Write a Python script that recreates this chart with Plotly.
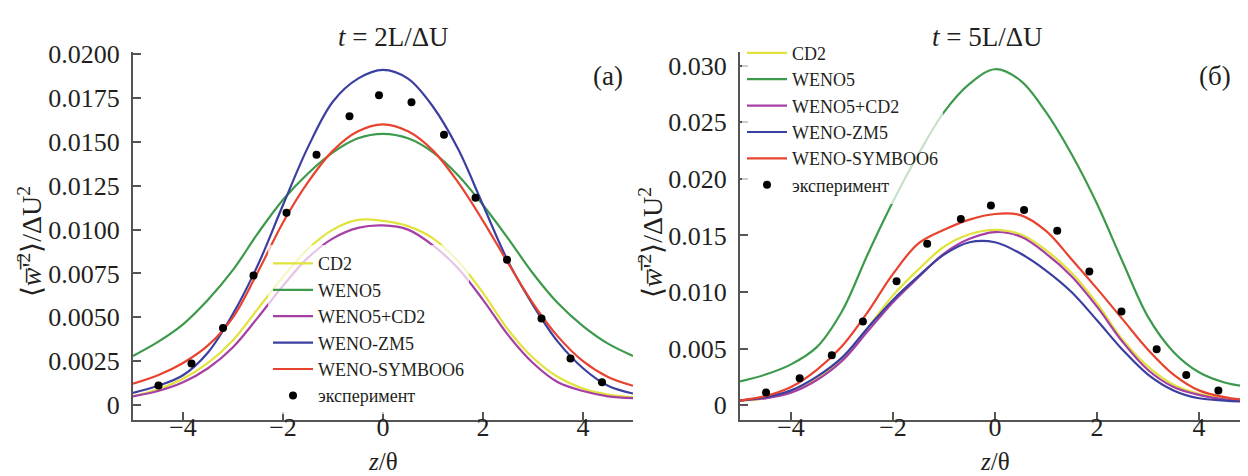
import plotly.graph_objects as go

# ---------------- data ----------------
z_grid = [-5, -4.5, -4, -3.5, -3, -2.5, -2, -1.5, -1, -0.5, 0, 0.5, 1, 1.5, 2, 2.5, 3, 3.5, 4, 4.5, 5]

series_names = ["CD2", "WENO5", "WENO5+CD2", "WENO-ZM5", "WENO-SYMBOO6"]
series_colors = ["#e2e23c", "#3d9a4c", "#a63fa5", "#3b3f9f", "#e8432f"]

# panel (a): t = 2L/dU
a_cd2 = [0.0005, 0.0009, 0.0015, 0.0024, 0.0037, 0.0055, 0.0073, 0.0089, 0.0100, 0.01055, 0.0105,
         0.0102, 0.0095, 0.0082, 0.0064, 0.0043, 0.0027, 0.0016, 0.00094, 0.0006, 0.00046]
a_weno5 = [0.0028, 0.0036, 0.0046, 0.0060, 0.0077, 0.0098, 0.0117, 0.0132, 0.0144, 0.0152, 0.01546,
           0.0152, 0.0144, 0.0131, 0.0114, 0.0095, 0.0075, 0.0058, 0.0045, 0.0035, 0.0028]
a_weno5cd2 = [0.0005, 0.0008, 0.0013, 0.0021, 0.0033, 0.0050, 0.0068, 0.0084, 0.0095, 0.0101, 0.01024,
              0.0100, 0.0091, 0.0078, 0.0060, 0.0040, 0.0024, 0.0013, 0.0008, 0.0005, 0.0004]
a_wenozm5 = [0.0007, 0.0011, 0.0017, 0.0030, 0.0052, 0.0080, 0.0114, 0.0147, 0.0173, 0.0186, 0.0191,
             0.0186, 0.0170, 0.0146, 0.0114, 0.0082, 0.0057, 0.0036, 0.0021, 0.0011, 0.00066]
a_symboo6 = [0.00122, 0.0017, 0.0024, 0.0034, 0.0050, 0.0076, 0.0104, 0.0127, 0.0145, 0.0156, 0.0160,
             0.0156, 0.0145, 0.0127, 0.0105, 0.0081, 0.0058, 0.0039, 0.0025, 0.0016, 0.0011]

# panel (б): t = 5L/dU
b_cd2 = [0.0004, 0.0006, 0.0012, 0.0023, 0.0041, 0.0068, 0.0097, 0.0120, 0.0140, 0.0151, 0.0155,
         0.0151, 0.0137, 0.0117, 0.0090, 0.0058, 0.0034, 0.0018, 0.0010, 0.0006, 0.0004]
b_weno5 = [0.0021, 0.0027, 0.0036, 0.0051, 0.0083, 0.0133, 0.0180, 0.0222, 0.0259, 0.0284, 0.0297,
           0.0287, 0.0259, 0.0222, 0.0178, 0.0127, 0.0078, 0.0047, 0.0029, 0.0020, 0.0016]
b_weno5cd2 = [0.0004, 0.0006, 0.0011, 0.0022, 0.0039, 0.0065, 0.0091, 0.0113, 0.0134, 0.0147, 0.0153,
              0.0149, 0.0134, 0.0114, 0.0087, 0.0056, 0.0031, 0.0016, 0.0009, 0.0005, 0.0003]
b_wenozm5 = [0.0004, 0.0007, 0.0013, 0.0025, 0.0042, 0.0068, 0.0093, 0.0114, 0.0133, 0.0144, 0.0144,
             0.0134, 0.0119, 0.0100, 0.0075, 0.0049, 0.0027, 0.0013, 0.0006, 0.0004, 0.0003]
b_symboo6 = [0.0004, 0.0008, 0.0016, 0.0031, 0.0052, 0.0082, 0.0116, 0.0143, 0.0155, 0.0164, 0.0169,
             0.0168, 0.0154, 0.0129, 0.0103, 0.0076, 0.0049, 0.0027, 0.0013, 0.0007, 0.0004]

exp_z = [-4.49, -3.83, -3.2, -2.59, -1.93, -1.33, -0.67, -0.08, 0.57, 1.22, 1.85, 2.48, 3.17, 3.75, 4.38]
exp_val = [0.00111, 0.00237, 0.0044, 0.00739, 0.01096, 0.01426, 0.01646, 0.01765, 0.01726, 0.01541,
           0.01181, 0.00828, 0.00494, 0.00265, 0.0013]
exp_name = "эксперимент"

x_ticks = [-4, -2, 0, 2, 4]
a_yticks = [0, 0.0025, 0.005, 0.0075, 0.01, 0.0125, 0.015, 0.0175, 0.02]
a_yticktext = ["0", "0.0025", "0.0050", "0.0075", "0.0100", "0.0125", "0.0150", "0.0175", "0.0200"]
b_yticks = [0, 0.005, 0.01, 0.015, 0.02, 0.025, 0.03]
b_yticktext = ["0", "0.005", "0.010", "0.015", "0.020", "0.025", "0.030"]

# ---------------- figure ----------------
W, H = 1248, 476
FONT = "Liberation Serif"
TXT = "#231f20"
AX = "#555555"

fig = go.Figure()

panels = [
    ("x", "y", "legend", [a_cd2, a_weno5, a_weno5cd2, a_wenozm5, a_symboo6]),
    ("x2", "y2", "legend2", [b_cd2, b_weno5, b_weno5cd2, b_wenozm5, b_symboo6]),
]
for xa, ya, lg, data in panels:
    for name, col, vals in zip(series_names, series_colors, data):
        fig.add_trace(go.Scatter(
            x=z_grid, y=vals, mode="lines", name=name, xaxis=xa, yaxis=ya, legend=lg,
            line=dict(color=col, width=2.2, shape="spline", smoothing=1.0),
        ))
    fig.add_trace(go.Scatter(
        x=exp_z, y=exp_val, mode="markers", name=exp_name, xaxis=xa, yaxis=ya, legend=lg,
        marker=dict(color="black", size=8),
    ))


def px_x(p):
    return p / W


def px_y(p):
    return 1 - p / H


axis_common = dict(
    showline=True, linecolor=AX, linewidth=2, ticks="inside", ticklen=8, tickwidth=2,
    tickcolor=AX, showgrid=False, zeroline=False, mirror=False,
    tickfont=dict(family=FONT, size=26, color=TXT),
)

ydom = [px_y(410), px_y(33)]
leg_common = dict(xanchor="left", yanchor="top", bgcolor="rgba(255,255,255,0.7)", borderwidth=0,
                  font=dict(family=FONT, size=18, color=TXT), itemwidth=40)
fig.update_layout(
    width=W, height=H, margin=dict(l=0, r=0, t=0, b=0, pad=0),
    paper_bgcolor="white", plot_bgcolor="white",
    xaxis=dict(domain=[px_x(125), px_x(625)], range=[-5, 5], anchor="y",
               tickvals=x_ticks, ticklabelstandoff=-17, **axis_common),
    yaxis=dict(domain=ydom, range=[-0.00083, 0.02011], anchor="x",
               tickvals=a_yticks, ticktext=a_yticktext, ticklabelstandoff=6, **axis_common),
    xaxis2=dict(domain=[px_x(732), px_x(1242)], range=[-5, 5], anchor="y2",
                tickvals=x_ticks, ticklabelstandoff=-17, **axis_common),
    yaxis2=dict(domain=ydom, range=[-0.00129, 0.03121], anchor="x2",
                tickvals=b_yticks, ticktext=b_yticktext, ticklabelstandoff=6, **axis_common),
    legend=dict(x=px_x(260), y=px_y(231), **leg_common),
    legend2=dict(x=px_x(734), y=px_y(15), **leg_common),
    showlegend=True,
)

ann_font = dict(family=FONT, size=27, color=TXT)
ylab_font = dict(family=FONT, size=28, color=TXT)
xlab_font = dict(family=FONT, size=25, color=TXT)
ylabel = "⟨<i>w̅</i>'̅<sup>2</sup>⟩/ΔU<sup>2</sup>"
annotations = [
    dict(text="<i>t</i> = 2L/ΔU", x=px_x(385), y=px_y(17), font=ann_font),
    dict(text="<i>t</i> = 5L/ΔU", x=px_x(979), y=px_y(17), font=ann_font),
    dict(text="(a)", x=px_x(600), y=px_y(57), font=ann_font),
    dict(text="(б)", x=px_x(1207), y=px_y(57), font=ann_font),
    dict(text="<i>z</i>/θ", x=px_x(375), y=px_y(453), font=xlab_font),
    dict(text="<i>z</i>/θ", x=px_x(987), y=px_y(453), font=xlab_font),
    dict(text=ylabel, x=px_x(22), y=px_y(228), textangle=-90, font=ylab_font),
    dict(text=ylabel, x=px_x(643), y=px_y(228), textangle=-90, font=ylab_font),
]
for a in annotations:
    a.update(xref="paper", yref="paper", showarrow=False, xanchor="center", yanchor="middle")
fig.update_layout(annotations=annotations)

fig.write_html("out.html")
